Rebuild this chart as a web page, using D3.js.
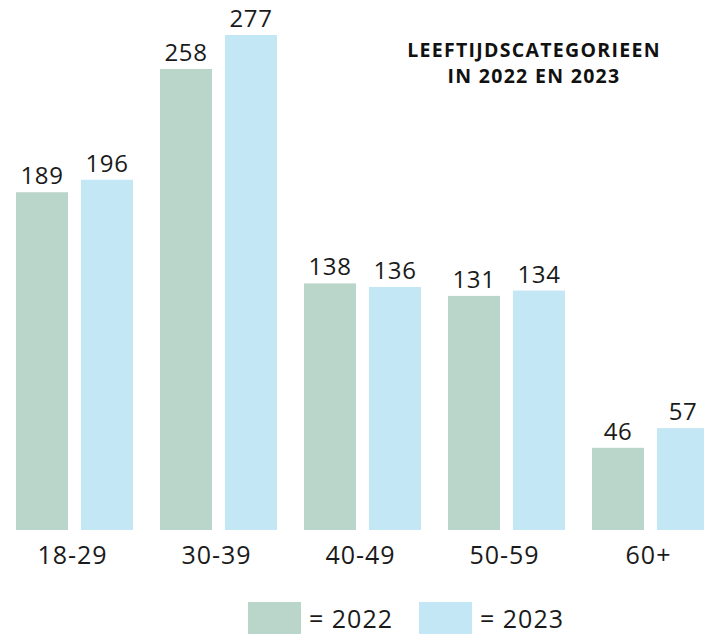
<!DOCTYPE html>
<html>
<head>
<meta charset="utf-8">
<script src="https://cdn.jsdelivr.net/npm/d3@7"></script>
<style>
  body { margin: 0; background: #fff; }
  svg { display: block; font-family: "Open Sans", "Noto Sans", sans-serif; }
</style>
</head>
<body>
<script>
const groups = ["18-29", "30-39", "40-49", "50-59", "60+"];
const years = ["2022", "2023"];
const values2022 = [189, 258, 138, 131, 46];
const values2023 = [196, 277, 136, 134, 57];
const titleLines = ["LEEFTIJDSCATEGORIEEN", "IN 2022 EN 2023"];

const width = 704, height = 634;
const color = d3.scaleOrdinal(years, ["#bad5ca", "#c4e7f5"]);

const rows = groups.map((g, i) => ({group: g, values: [
  {year: "2022", value: values2022[i]},
  {year: "2023", value: values2023[i]}
]}));

const svg = d3.select("body").append("svg")
    .attr("width", width)
    .attr("height", height);

const x0 = d3.scaleBand()
    .domain(groups)
    .range([16, 709])
    .paddingInner(0.1875);

const x1 = d3.scaleBand()
    .domain(years)
    .range([0, x0.bandwidth()])
    .paddingInner(0.2);

const y = d3.scaleLinear()
    .domain([0, 277])
    .range([530, 35]);

const group = svg.append("g")
  .selectAll("g")
  .data(rows)
  .join("g")
    .attr("transform", d => `translate(${x0(d.group)},0)`);

group.selectAll("rect")
  .data(d => d.values)
  .join("rect")
    .attr("x", d => x1(d.year))
    .attr("y", d => y(d.value))
    .attr("width", x1.bandwidth())
    .attr("height", d => y(0) - y(d.value))
    .attr("fill", d => color(d.year));

group.selectAll("text")
  .data(d => d.values)
  .join("text")
    .attr("x", d => x1(d.year) + x1.bandwidth() / 2)
    .attr("y", d => y(d.value) - 8)
    .attr("text-anchor", "middle")
    .attr("font-size", 24)
    .attr("letter-spacing", 0.6)
    .attr("fill", "#1a1a1a")
    .text(d => d.value);

// group labels
const axis = svg.append("g")
    .attr("transform", "translate(-2,543)")
    .call(d3.axisBottom(x0).tickSize(0).tickPadding(0));
axis.select(".domain").remove();
axis.selectAll("text")
    .attr("font-size", 25)
    .attr("letter-spacing", 1)
    .attr("font-family", "\"Open Sans\", \"Noto Sans\", sans-serif")
    .attr("fill", "#1a1a1a")
    .attr("dy", "0.85em");

// title
svg.append("text")
    .attr("x", 534)
    .attr("y", 57)
    .attr("text-anchor", "middle")
    .attr("font-size", 19.5)
    .attr("font-weight", "bold")
    .attr("letter-spacing", 1.3)
    .attr("fill", "#111")
  .selectAll("tspan")
  .data(titleLines)
  .join("tspan")
    .attr("x", 534)
    .attr("dy", (d, i) => i ? 26 : 0)
    .text(d => d);

// legend
const legend = svg.append("g")
  .selectAll("g")
  .data(years)
  .join("g")
    .attr("transform", (d, i) => `translate(${248 + i * 171},602)`);

legend.append("rect")
    .attr("width", 53)
    .attr("height", 32)
    .attr("fill", d => color(d));

legend.append("text")
    .attr("x", 61)
    .attr("y", 26)
    .attr("font-size", 25)
    .attr("letter-spacing", 1)
    .attr("fill", "#1a1a1a")
    .text(d => `= ${d}`);
</script>
</body>
</html>
